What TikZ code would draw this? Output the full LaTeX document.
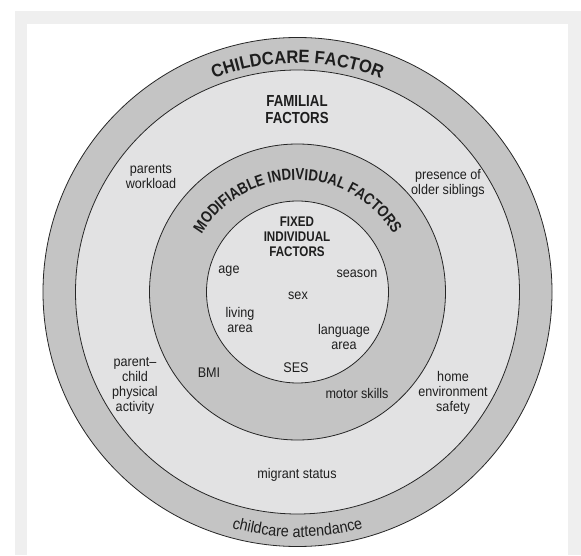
\documentclass[tikz,border=0pt]{standalone}
\usepackage{fontspec}
\setmainfont{Liberation Sans}[FakeStretch=0.9]
\newfontfamily\condA{Liberation Sans}[FakeStretch=0.83]
\newfontfamily\condB{Liberation Sans}[FakeStretch=0.92]
\usetikzlibrary{decorations.text,calc}
\definecolor{ringdark}{HTML}{C4C4C4}
\definecolor{ringlight}{HTML}{E2E2E3}
\definecolor{framegray}{HTML}{EFEFEF}
\definecolor{inkc}{HTML}{1E1E1E}
\newcommand\fRegular{\fontsize{14}{15}\selectfont}
\newcommand\fHead{\condA\bfseries\fontsize{16}{17.6}\selectfont}
\newcommand\fFixed{\condA\bfseries\fontsize{14}{15}\selectfont}
\newcommand\fChild{\condB\bfseries\fontsize{18}{18}\selectfont}
\newcommand\fModif{\condA\bfseries\fontsize{16}{16}\selectfont}
\newcommand\fAttend{\fontsize{16}{16}\selectfont}
\begin{document}
\begin{tikzpicture}[x=1pt,y=1pt,
  ringline/.style={draw=black!85,line width=0.8pt},
  lbl/.style={inner sep=0pt,align=center,text=inkc,font=\fRegular},
  headlbl/.style={inner sep=0pt,align=center,text=inkc,font=\fHead},
  fixedlbl/.style={inner sep=0pt,align=center,text=inkc,font=\fFixed}]
\useasboundingbox (0,0) rectangle (581,555);
\fill[framegray] (15,0) rectangle (581,544);
\fill[white] (27,0) rectangle (568,531);
\coordinate (C) at (297.5,263);
% rings
\filldraw[fill=ringdark,ringline] (C) circle[radius=254.5];
\filldraw[fill=ringlight,ringline] (C) circle[radius=222];
\filldraw[fill=ringdark,ringline] (C) circle[radius=148];
\filldraw[fill=ringlight,ringline] (C) circle[radius=91];
% curved labels
\path[decorate,decoration={text along path,text align=center,
  text={|\fChild\color{inkc}|CHILDCARE FACTOR}}]
  ($(C)+(180:229)$) arc[start angle=180,end angle=0,radius=229];
\path[decorate,decoration={text along path,text align=center,
  text={|\fModif\color{inkc}|MODIFIABLE INDIVIDUAL FACTORS}}]
  ($(C)+(180:112)$) arc[start angle=180,end angle=0,radius=112];
\path[decorate,decoration={text along path,text align=center,
  text={|\fAttend\color{inkc}|childcare attendance}}]
  ($(C)+(200:245)$) arc[start angle=200,end angle=340,radius=245];
% familial ring
\node[headlbl] (familial) at (297,445.5) {FAMILIAL\\FACTORS};
\node[lbl] (workload) at (151,378) {parents\\workload};
\node[lbl] (siblings) at (448,371.5) {presence of\\older siblings};
\node[lbl] (pcpa) at (135,169.5) {parent–\\child\\physical\\activity};
\node[lbl] (home) at (453,162) {home\\environment\\safety};
\node[lbl] (migrant) at (297,80) {migrant status};
% modifiable ring
\node[lbl] (bmi) at (209,182) {BMI};
\node[lbl] (motor) at (357,162) {motor skills};
% fixed
\node[fixedlbl] (fixed) at (297,318) {FIXED\\INDIVIDUAL\\FACTORS};
\node[lbl] (age) at (229,284) {age};
\node[lbl] (season) at (357,281) {season};
\node[lbl] (sex) at (298,259) {sex};
\node[lbl] (living) at (240,235) {living\\area};
\node[lbl] (language) at (344,218) {language\\area};
\node[lbl] (ses) at (296,187) {SES};
\end{tikzpicture}
\end{document}
